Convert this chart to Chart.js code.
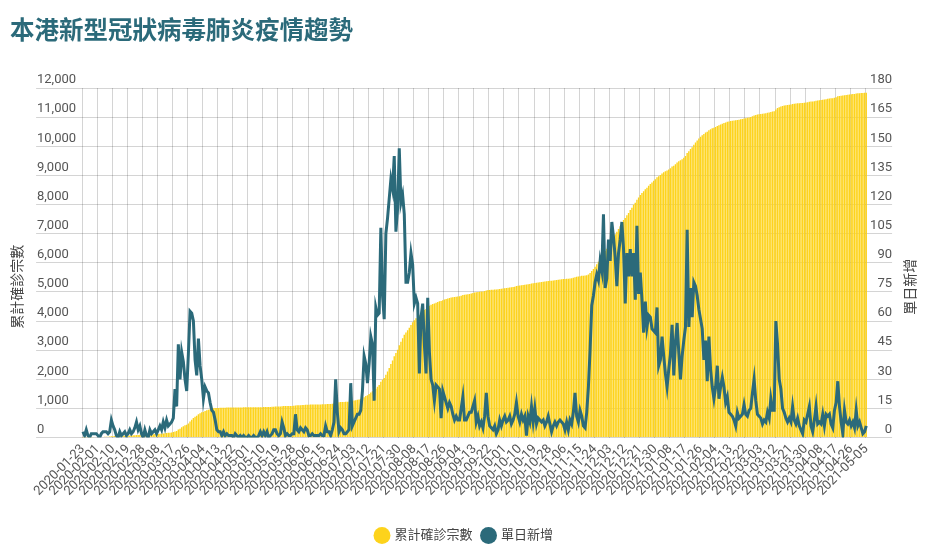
<!DOCTYPE html>
<html lang="zh-Hant">
<head>
<meta charset="utf-8">
<title>本港新型冠狀病毒肺炎疫情趨勢</title>
<script src="https://cdn.jsdelivr.net/npm/chart.js@4.4.1/dist/chart.umd.min.js"></script>
<style>
  html, body { margin: 0; padding: 0; background: #fff; }
  #wrap { position: relative; width: 932px; height: 552px; }
  #title {
    position: absolute; left: 10px; top: 17px; margin: 0;
    font: bold 24.5px "Noto Sans CJK TC", sans-serif; line-height: 1;
    color: #2b6a7a;
  }
</style>
</head>
<body>
<div id="wrap">
  <canvas id="trendChart"></canvas>
  <h1 id="title">本港新型冠狀病毒肺炎疫情趨勢</h1>
</div>
<script>
// 第一日，之後每日一個類別
var firstDay = '2020-01-23';

// 單日新增（右軸）
var dailyNew = [
    3, 1, 4, 1, 0, 2, 2, 2, 2, 1,
    0, 2, 3, 3, 3, 2, 3, 9, 6, 4,
    1, 0, 3, 1, 2, 3, 1, 2, 4, 2,
    3, 5, 8, 4, 6, 2, 0, 4, 1, 0,
    4, 2, 3, 4, 2, 4, 6, 4, 8, 5,
    9, 6, 7, 8, 10, 25, 16, 48, 30, 44,
    39, 30, 24, 43, 65, 64, 60, 40, 32, 51,
    37, 30, 20, 26, 24, 23, 18, 14, 13, 9,
    4, 3, 3, 1, 3, 1, 2, 1, 1, 1,
    0, 2, 1, 0, 1, 0, 1, 0, 0, 1,
    0, 0, 1, 0, 0, 1, 3, 1, 3, 1,
    3, 0, 1, 2, 4, 4, 2, 1, 2, 8,
    5, 1, 2, 1, 1, 2, 2, 12, 4, 3,
    5, 4, 3, 5, 4, 1, 1, 2, 1, 1,
    1, 1, 2, 1, 1, 6, 3, 3, 1, 4,
    8, 30, 13, 3, 5, 4, 2, 2, 3, 4,
    28, 6, 8, 10, 12, 12, 14, 24, 42, 38,
    28, 38, 52, 48, 19, 67, 63, 64, 108, 73,
    61, 105, 113, 123, 133, 128, 145, 106, 118, 149,
    121, 125, 115, 80, 80, 85, 95, 89, 69, 72,
    69, 33, 62, 69, 48, 33, 72, 44, 30, 27,
    19, 27, 26, 25, 10, 24, 21, 18, 15, 18,
    16, 12, 9, 11, 9, 9, 15, 21, 9, 9,
    11, 13, 13, 16, 19, 8, 11, 6, 8, 5,
    11, 23, 11, 6, 5, 4, 6, 2, 4, 9,
    6, 9, 11, 8, 9, 11, 7, 9, 12, 18,
    11, 8, 12, 9, 11, 1, 11, 8, 16, 8,
    15, 7, 10, 9, 8, 9, 6, 8, 11, 7,
    3, 6, 8, 6, 8, 9, 8, 7, 4, 8,
    4, 9, 7, 13, 23, 11, 8, 14, 11, 6,
    5, 13, 26, 45, 68, 73, 80, 84, 81, 91,
    86, 115, 77, 82, 102, 91, 111, 103, 93, 78,
    95, 102, 111, 97, 69, 95, 83, 97, 83, 95,
    71, 109, 74, 85, 71, 54, 70, 57, 63, 62,
    56, 55, 54, 67, 37, 40, 52, 42, 33, 26,
    35, 43, 58, 32, 49, 59, 44, 30, 42, 50,
    57, 107, 57, 77, 62, 80, 78, 73, 66, 61,
    56, 40, 50, 29, 52, 35, 26, 20, 26, 37,
    20, 26, 31, 26, 18, 21, 13, 12, 11, 9,
    6, 13, 10, 11, 12, 17, 12, 11, 14, 15,
    23, 30, 19, 12, 11, 10, 7, 9, 8, 13,
    10, 20, 14, 14, 60, 48, 30, 25, 15, 13,
    10, 8, 10, 8, 16, 9, 7, 10, 6, 4,
    2, 9, 8, 12, 16, 6, 3, 9, 16, 7,
    8, 7, 12, 6, 12, 11, 12, 7, 5, 14,
    18, 29, 16, 8, 2, 14, 8, 7, 9, 6,
    8, 5, 14, 6, 8, 5, 2, 3, 6
];

// 累計確診宗數（左軸）
var cumulativeCases = [
    3, 4, 8, 9, 9, 11, 13, 15, 17, 18,
    18, 20, 23, 26, 29, 31, 34, 43, 49, 53,
    54, 54, 57, 58, 60, 63, 64, 66, 70, 72,
    75, 80, 88, 92, 98, 100, 100, 104, 105, 105,
    109, 111, 114, 118, 120, 124, 130, 134, 142, 147,
    156, 162, 169, 177, 187, 212, 228, 276, 306, 350,
    389, 419, 443, 486, 551, 615, 675, 715, 747, 798,
    835, 865, 885, 911, 935, 958, 976, 990, 1003, 1012,
    1016, 1019, 1022, 1023, 1026, 1027, 1029, 1030, 1031, 1032,
    1032, 1034, 1035, 1035, 1036, 1036, 1037, 1037, 1037, 1038,
    1038, 1038, 1039, 1039, 1039, 1040, 1043, 1044, 1047, 1048,
    1051, 1051, 1052, 1054, 1058, 1062, 1064, 1065, 1067, 1075,
    1080, 1081, 1083, 1084, 1085, 1087, 1089, 1101, 1105, 1108,
    1113, 1117, 1120, 1125, 1129, 1130, 1131, 1133, 1134, 1135,
    1136, 1137, 1139, 1140, 1141, 1147, 1150, 1153, 1154, 1158,
    1166, 1196, 1209, 1212, 1217, 1221, 1223, 1225, 1228, 1232,
    1260, 1266, 1274, 1284, 1296, 1308, 1322, 1346, 1388, 1426,
    1454, 1492, 1544, 1592, 1611, 1678, 1741, 1805, 1913, 1986,
    2047, 2152, 2265, 2388, 2521, 2649, 2794, 2900, 3018, 3167,
    3288, 3413, 3528, 3608, 3688, 3773, 3868, 3957, 4026, 4098,
    4167, 4200, 4262, 4331, 4379, 4412, 4484, 4528, 4558, 4585,
    4604, 4631, 4657, 4682, 4692, 4716, 4737, 4755, 4770, 4788,
    4804, 4816, 4825, 4836, 4845, 4854, 4869, 4890, 4899, 4908,
    4919, 4932, 4945, 4961, 4980, 4988, 4999, 5005, 5013, 5018,
    5029, 5052, 5063, 5069, 5074, 5078, 5084, 5086, 5090, 5099,
    5105, 5114, 5125, 5133, 5142, 5153, 5160, 5169, 5181, 5199,
    5210, 5218, 5230, 5239, 5250, 5251, 5262, 5270, 5286, 5294,
    5309, 5316, 5326, 5335, 5343, 5352, 5358, 5366, 5377, 5384,
    5387, 5393, 5401, 5407, 5415, 5424, 5432, 5439, 5443, 5451,
    5455, 5464, 5471, 5484, 5507, 5518, 5526, 5540, 5551, 5557,
    5562, 5575, 5601, 5646, 5714, 5787, 5867, 5951, 6032, 6123,
    6209, 6324, 6401, 6483, 6585, 6676, 6787, 6890, 6983, 7061,
    7156, 7258, 7369, 7466, 7535, 7630, 7713, 7810, 7893, 7988,
    8059, 8168, 8242, 8327, 8398, 8452, 8522, 8579, 8642, 8704,
    8760, 8815, 8869, 8936, 8973, 9013, 9065, 9107, 9140, 9166,
    9201, 9244, 9302, 9334, 9383, 9442, 9486, 9516, 9558, 9608,
    9665, 9772, 9829, 9906, 9968, 10048, 10126, 10199, 10265, 10326,
    10382, 10422, 10472, 10501, 10553, 10588, 10614, 10634, 10660, 10697,
    10717, 10743, 10774, 10800, 10818, 10839, 10852, 10864, 10875, 10884,
    10890, 10903, 10913, 10924, 10936, 10953, 10965, 10976, 10990, 11005,
    11028, 11058, 11077, 11089, 11100, 11110, 11117, 11126, 11134, 11147,
    11157, 11177, 11191, 11205, 11265, 11313, 11343, 11368, 11383, 11396,
    11406, 11414, 11424, 11432, 11448, 11457, 11464, 11474, 11480, 11484,
    11486, 11495, 11503, 11515, 11531, 11537, 11540, 11549, 11565, 11572,
    11580, 11587, 11599, 11605, 11617, 11628, 11640, 11647, 11652, 11666,
    11684, 11713, 11729, 11737, 11739, 11753, 11761, 11768, 11777, 11783,
    11791, 11796, 11810, 11816, 11824, 11829, 11831, 11834, 11840
];

var barColor = '#fdd31c';
var lineColor = '#2b6a7a';
var gridColor = 'rgba(0, 0, 0, 0.17)';
var tickColor = '#555';
var tickEvery = 9;   // 每 9 日一個日期標籤

// 日期標籤 YYYY-MM-DD
var dayLabels = [];
var day = new Date(firstDay + 'T00:00:00Z');
for (var i = 0; i < dailyNew.length; i++) {
    dayLabels.push(day.toISOString().slice(0, 10));
    day.setUTCDate(day.getUTCDate() + 1);
}

Chart.defaults.font.family = 'Roboto, "Noto Sans CJK TC", sans-serif';
Chart.defaults.font.size = 13;

// 兩條縱軸標題，位置比圖表中線略低
var axisTitles = {
    id: 'axisTitles',
    afterDraw: function(chart) {
        var ctx = chart.ctx;
        var area = chart.chartArea;
        var midY = (area.top + area.bottom) / 2 + 24;
        var titles = [
            [chart.scales.y.left - 20, '累計確診宗數'],
            [chart.scales.y1.right + 18, '單日新增']
        ];
        ctx.save();
        ctx.font = '14px "Noto Sans CJK TC", sans-serif';
        ctx.fillStyle = '#444';
        ctx.textAlign = 'center';
        ctx.textBaseline = 'middle';
        titles.forEach(function(t) {
            ctx.save();
            ctx.translate(t[0], midY);
            ctx.rotate(-Math.PI / 2);
            ctx.fillText(t[1], 0, 0);
            ctx.restore();
        });
        ctx.restore();
    }
};

new Chart(document.getElementById('trendChart'), {
    type: 'bar',
    data: {
        labels: dayLabels,
        datasets: [
            {
                label: '累計確診宗數',
                data: cumulativeCases,
                backgroundColor: barColor,
                yAxisID: 'y',
                order: 2,
                categoryPercentage: 1,
                barPercentage: 0.85
            },
            {
                type: 'line',
                label: '單日新增',
                data: dailyNew,
                borderColor: lineColor,
                backgroundColor: lineColor,
                borderWidth: 3,
                pointRadius: 0,
                yAxisID: 'y1',
                order: 1
            }
        ]
    },
    options: {
        responsive: true,
        maintainAspectRatio: false,
        animation: false,
        locale: 'en-US',
        layout: { padding: { left: 37, right: 40, top: 88, bottom: 0 } },
        plugins: {
            tooltip: { enabled: false },
            legend: {
                position: 'bottom',
                labels: {
                    usePointStyle: true,
                    pointStyle: 'circle',
                    boxWidth: 12,
                    boxHeight: 12,
                    padding: 10,
                    color: '#444',
                    font: { size: 13 },
                    sort: function(a, b) { return a.datasetIndex - b.datasetIndex; },
                    generateLabels: function(chart) {
                        return Chart.defaults.plugins.legend.labels.generateLabels(chart).map(function(item) {
                            item.lineWidth = 0;
                            item.strokeStyle = item.fillStyle;
                            return item;
                        });
                    }
                }
            }
        },
        scales: {
            x: {
                grid: {
                    offset: true,
                    drawTicks: false,
                    color: function(c) { return c.index % tickEvery === 0 ? gridColor : 'rgba(0,0,0,0)'; }
                },
                border: { display: false },
                ticks: {
                    autoSkip: false,
                    minRotation: 45,
                    maxRotation: 45,
                    padding: 4,
                    color: tickColor,
                    callback: function(value, index) {
                        return index % tickEvery === 0 ? this.getLabelForValue(value) : '';
                    }
                },
                afterFit: function(scale) { scale.height += 16; }
            },
            y: {
                position: 'left',
                min: 0,
                max: 12000,
                ticks: { stepSize: 1000, crossAlign: 'far', padding: -20, labelOffset: -8, color: tickColor },
                grid: { color: gridColor, tickLength: 46 },
                border: { display: false }
            },
            y1: {
                position: 'right',
                min: 0,
                max: 180,
                ticks: { stepSize: 15, crossAlign: 'far', padding: -11, labelOffset: -8, color: tickColor },
                grid: { drawOnChartArea: false, color: gridColor, tickLength: 25 },
                border: { display: false }
            }
        }
    },
    plugins: [axisTitles]
});
</script>
</body>
</html>
